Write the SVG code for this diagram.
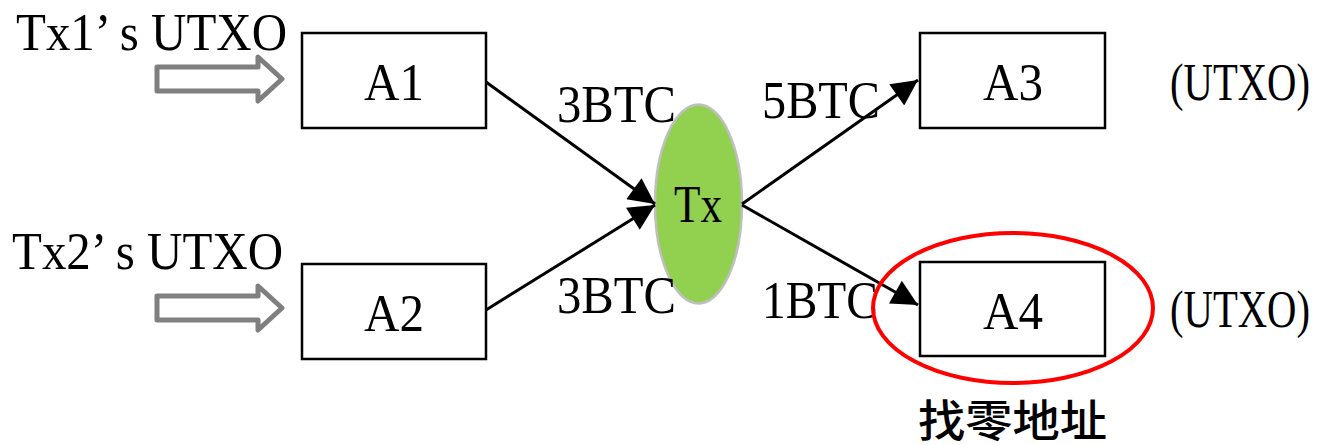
<svg xmlns="http://www.w3.org/2000/svg" width="1328" height="445" viewBox="0 0 1328 445">
  <style>
    .box { fill: #ffffff; stroke: #000000; stroke-width: 2.5; }
    .lbl { font-family: "Liberation Serif", "Noto Sans CJK SC", serif; font-size: 52px; fill: #000000; }
    .mid { text-anchor: middle; }
    .edge { stroke: #000000; stroke-width: 3; fill: none; marker-end: url(#head); }
    .hollow { fill: #ffffff; stroke: #7f7f7f; stroke-width: 5; stroke-linejoin: round; }
    .cjk { font-family: "Noto Sans CJK SC", sans-serif; font-size: 44px; font-weight: 500; fill: #000000; }
  </style>
  <defs>
    <marker id="head" viewBox="0 0 10 10" refX="10" refY="5" markerWidth="10" markerHeight="10" markerUnits="userSpaceOnUse" orient="auto">
      <path d="M0,0 L10,5 L0,10 z" fill="#000000"/>
    </marker>
    <marker id="big" viewBox="0 0 10 10" refX="10" refY="5" markerWidth="30" markerHeight="26" markerUnits="userSpaceOnUse" orient="auto">
      <path d="M0,0 L10,5 L0,10 z" fill="#000000"/>
    </marker>
  </defs>

  <!-- input labels with hollow arrows -->
  <g id="in1">
    <text class="lbl" x="16" y="50" textLength="271" lengthAdjust="spacingAndGlyphs">Tx1’ s UTXO</text>
    <path class="hollow" d="M157,67 H258 V57 L282,79 L258,101 V91 H157 Z"/>
  </g>
  <g id="in2">
    <text class="lbl" x="12" y="269" textLength="271" lengthAdjust="spacingAndGlyphs">Tx2’ s UTXO</text>
    <path class="hollow" d="M157,296 H258 V286 L282,308 L258,330 V320 H157 Z"/>
  </g>

  <!-- address boxes -->
  <g id="A1">
    <rect class="box" x="302" y="33" width="184" height="95"/>
    <text class="lbl mid" x="394" y="100" textLength="60" lengthAdjust="spacingAndGlyphs">A1</text>
  </g>
  <g id="A2">
    <rect class="box" x="302" y="264" width="184" height="95"/>
    <text class="lbl mid" x="394" y="331" textLength="60" lengthAdjust="spacingAndGlyphs">A2</text>
  </g>
  <g id="A3">
    <rect class="box" x="920" y="33" width="185" height="95"/>
    <text class="lbl mid" x="1013" y="100" textLength="60" lengthAdjust="spacingAndGlyphs">A3</text>
    <text class="lbl" x="1170" y="100" textLength="140" lengthAdjust="spacingAndGlyphs">(UTXO)</text>
  </g>
  <g id="A4">
    <rect class="box" x="920" y="262" width="185" height="94"/>
    <text class="lbl mid" x="1013" y="329" textLength="60" lengthAdjust="spacingAndGlyphs">A4</text>
    <text class="lbl" x="1170" y="327" textLength="140" lengthAdjust="spacingAndGlyphs">(UTXO)</text>
  </g>

  <!-- transaction -->
  <g id="Tx">
    <ellipse cx="698.5" cy="204" rx="43.5" ry="99.5" fill="#92d050" stroke="#bfbfbf" stroke-width="2.5"/>
    <text class="lbl mid" x="698" y="222" textLength="48" lengthAdjust="spacingAndGlyphs">Tx</text>
  </g>

  <!-- connectors -->
  <g id="edges">
    <line x1="486" y1="82" x2="655" y2="204" stroke="#000" stroke-width="3" marker-end="url(#big)"/>
    <line x1="486" y1="310" x2="655" y2="205" stroke="#000" stroke-width="3" marker-end="url(#big)"/>
    <line x1="742" y1="204" x2="918" y2="80" stroke="#000" stroke-width="3" marker-end="url(#big)"/>
    <line x1="742" y1="205" x2="918" y2="305" stroke="#000" stroke-width="3" marker-end="url(#big)"/>
  </g>

  <!-- amount labels -->
  <g id="amounts">
    <text class="lbl" x="557" y="122" textLength="119" lengthAdjust="spacingAndGlyphs">3BTC</text>
    <text class="lbl" x="762" y="118" textLength="118" lengthAdjust="spacingAndGlyphs">5BTC</text>
    <text class="lbl" x="557" y="313" textLength="119" lengthAdjust="spacingAndGlyphs">3BTC</text>
    <text class="lbl" x="762" y="318" textLength="116" lengthAdjust="spacingAndGlyphs">1BTC</text>
  </g>

  <!-- change address highlight -->
  <g id="change">
    <ellipse cx="1013" cy="308" rx="140" ry="75" fill="none" stroke="#ff0000" stroke-width="4"/>
    <text class="cjk" x="918" y="437" textLength="189" lengthAdjust="spacingAndGlyphs">找零地址</text>
  </g>
</svg>
